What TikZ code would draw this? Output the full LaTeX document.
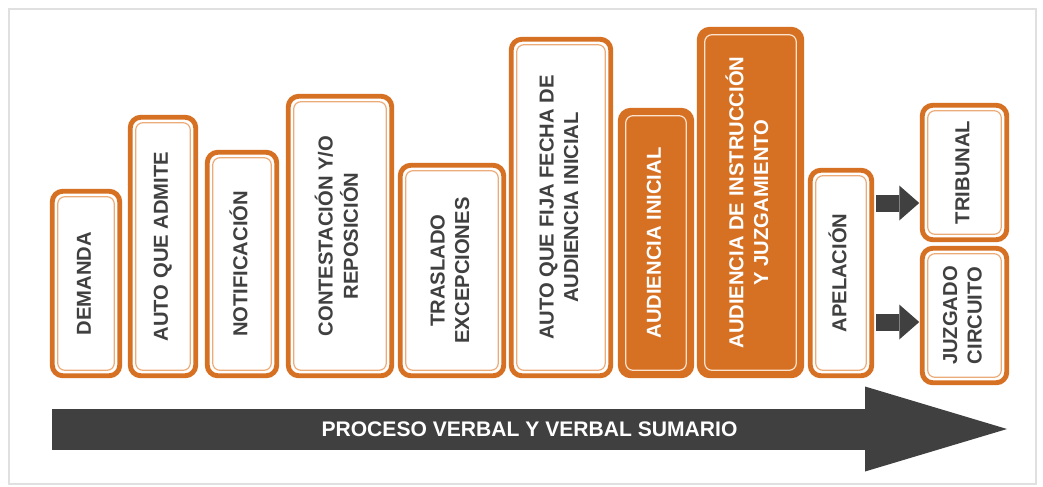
\documentclass[tikz,border=0pt]{standalone}
\usepackage{fontspec}
\setmainfont{Liberation Sans}
\usepackage{graphicx}
\usepackage{tikz}
\usetikzlibrary{arrows.meta, calc}
\definecolor{naranja}{RGB}{214,113,36}
\definecolor{naranjaclaro}{RGB}{236,172,122}
\definecolor{crema}{RGB}{250,226,205}
\definecolor{grisoscuro}{RGB}{64,64,64}
\tikzset{
    etapa/.style={draw=naranja, line width=2.8pt, rounded corners=6pt, fill=white, outer sep=0pt, inner sep=0pt, text=grisoscuro, font=\fontsize{11.5}{14}\selectfont\bfseries},
    etapa linea/.style={draw=naranjaclaro, line width=0.7pt, rounded corners=4pt},
    clave/.style={fill=naranja, text=white},
    clave linea/.style={draw=crema},
    flechita/.style={draw=grisoscuro, line width=0.34cm, -{Triangle[length=0.4cm, width=0.7cm, line width=0pt]}},
    proceso/.style={draw=grisoscuro, line width=0.82cm, -{Triangle[length=2.84cm, width=1.7cm, line width=0pt]}},
}
\newcommand{\etapa}[5]{
    \node[etapa, minimum width=#3cm, minimum height=#4cm] (#1) at (#2) {\rotatebox{90}{\begin{tabular}{@{}c@{}}#5\end{tabular}}};
    \draw[etapa linea] ($(#1.south west) + (0.11, 0.11)$) rectangle ($(#1.north east) + (-0.11, -0.11)$);
}
\newcommand{\etapaclave}[5]{
    \node[etapa, clave, minimum width=#3cm, minimum height=#4cm] (#1) at (#2) {\rotatebox{90}{\begin{tabular}{@{}c@{}}#5\end{tabular}}};
    \draw[etapa linea, clave linea] ($(#1.south west) + (0.11, 0.11)$) rectangle ($(#1.north east) + (-0.11, -0.11)$);
}
\begin{document}
\begin{tikzpicture}
                    \useasboundingbox (0, 0) rectangle (20.86, -9.72);
                    \draw[black!12, line width=1.5pt, fill=white] (0.18, -0.18) rectangle (20.72, -9.68);
                    \etapa{demanda}{1.72, -5.67}{1.35}{3.69}{DEMANDA}
                    \etapa{autoadmite}{3.26, -4.93}{1.31}{5.17}{AUTO QUE ADMITE}
                    \etapa{notificacion}{4.84, -5.28}{1.39}{4.47}{NOTIFICACIÓN}
                    \etapa{contestacion}{6.80, -4.72}{2.07}{5.59}{CONTESTACIÓN Y/O\\REPOSICIÓN}
                    \etapa{traslado}{9.04, -5.41}{2.07}{4.21}{TRASLADO\\EXCEPCIONES}
                    \etapa{autofija}{11.22, -4.15}{1.99}{6.73}{AUTO QUE FIJA FECHA DE\\AUDIENCIA INICIAL}
                    \etapaclave{audinicial}{13.12, -4.86}{1.43}{5.31}{AUDIENCIA INICIAL}
                    \etapaclave{audinstruccion}{15.01, -4.05}{2.05}{6.93}{AUDIENCIA DE INSTRUCCIÓN\\Y JUZGAMIENTO}
                    \etapa{apelacion}{16.82, -5.46}{1.23}{4.11}{APELACIÓN}
                    \etapa{tribunal}{19.29, -3.45}{1.69}{2.69}{TRIBUNAL}
                    \etapa{juzgado}{19.29, -6.31}{1.69}{2.69}{JUZGADO\\CIRCUITO}
                    \coordinate (inicio) at (1.04, -8.58);
                    \coordinate (fin) at (20.14, -8.58);
                    \draw[proceso] (inicio) -- (fin);
                    \node[text=white, font=\fontsize{12}{14}\selectfont\bfseries] (procesotexto) at ($(inicio)!0.5!(fin)$) {PROCESO VERBAL Y VERBAL SUMARIO};
                    \draw[flechita]
                    ($(apelacion.east |- tribunal.west) + (0.08, -0.61)$) -- ($(tribunal.west) + (-0.06, -0.61)$);
                    \draw[flechita]
                    ($(apelacion.east |- juzgado.west) + (0.08, -0.13)$) -- ($(juzgado.west) + (-0.06, -0.13)$);
                \end{tikzpicture}
\end{document}
